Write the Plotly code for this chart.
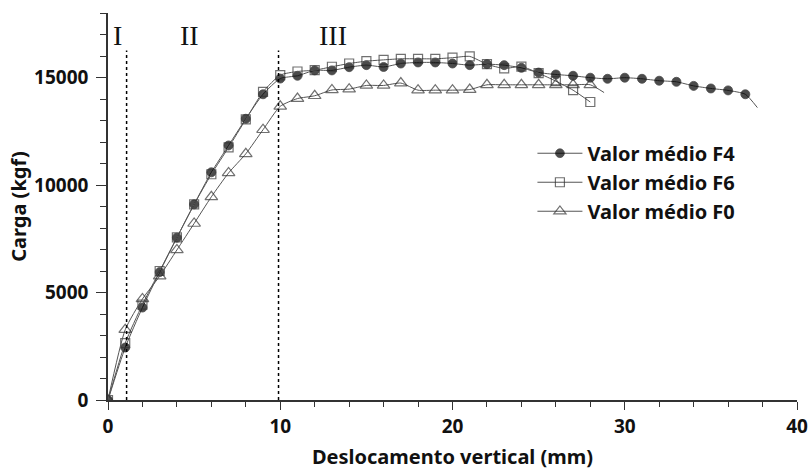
import plotly.graph_objects as go

# ---- data ----
x_f4 = [0, 1, 2, 3, 4, 5, 6, 7, 8, 9, 10, 11, 12, 13, 14, 15, 16, 17, 18, 19,
        20, 21, 22, 23, 24, 25, 26, 27, 28, 29, 30, 31, 32, 33, 34, 35, 36, 37]
y_f4 = [0, 2440, 4300, 5950, 7550, 9100, 10590, 11840, 13080, 14220, 14950,
        15080, 15330, 15330, 15480, 15575, 15490, 15650, 15700, 15700, 15650,
        15575, 15620, 15575, 15450, 15230, 15140, 15080, 14990, 14940, 14990,
        14940, 14850, 14800, 14610, 14490, 14400, 14220]
f4_end = (37.7, 13600)

x_f6 = [0, 1, 2, 3, 4, 5, 6, 7, 8, 9, 10, 11, 12, 13, 14, 15, 16, 17, 18, 19,
        20, 21, 22, 23, 24, 25, 26, 27, 28]
y_f6 = [0, 2650, 4440, 6000, 7560, 9100, 10500, 11750, 13050, 14330, 15110,
        15280, 15340, 15500, 15650, 15760, 15820, 15870, 15870, 15870, 15920,
        15980, 15620, 15420, 15510, 15200, 14830, 14410, 13860]

x_f0 = [0, 1, 2, 3, 4, 5, 6, 7, 8, 9, 10, 11, 12, 13, 14, 15, 16, 17, 18, 19,
        20, 21, 22, 23, 24, 25, 26, 27, 28]
y_f0 = [0, 3270, 4700, 5760, 6980, 8210, 9450, 10560, 11450, 12570, 13660,
        14020, 14150, 14420, 14460, 14630, 14630, 14740, 14410, 14410, 14410,
        14440, 14660, 14660, 14660, 14660, 14660, 14660, 14660]
f0_end = (28.8, 14300)

series_names = ["Valor médio F4", "Valor médio F6", "Valor médio F0"]
region_labels = ["I", "II", "III"]
region_label_x = [0.58, 4.76, 13.07]
region_label_y = 16950
boundary_x = [1.08, 9.9]
boundary_top = 16250

x_title = "Deslocamento vertical (mm)"
y_title = "Carga (kgf)"

# ---- figure ----
LINE = "#555555"
MK = "#333333"
FONT = "Noto Sans"

fig = go.Figure()

specs = [
    (x_f4, y_f4, f4_end, dict(symbol="circle", color="#000000", size=9,
                              line=dict(color="#000000", width=0.8))),
    (x_f6, y_f6, None, dict(symbol="square-open", color=MK, size=9,
                            line=dict(color=MK, width=1.2))),
    (x_f0, y_f0, f0_end, dict(symbol="triangle-up-open", color=MK, size=11,
                              line=dict(color=MK, width=1.2))),
]

for name, (xs, ys, end, mk) in zip(series_names, specs):
    n = len(xs)
    if end is not None:
        xs = list(xs) + [end[0]]
        ys = list(ys) + [end[1]]
    sizes = [mk["size"]] * n + ([0] * (len(xs) - n))
    marker = dict(mk)
    marker["size"] = sizes
    fig.add_trace(go.Scatter(
        x=xs, y=ys, name=name, mode="lines+markers",
        line=dict(color=LINE, width=1, shape="spline", smoothing=0.6),
        marker=marker,
    ))

for bx in boundary_x:
    fig.add_shape(type="line", xref="x", yref="y", x0=bx, x1=bx, y0=0,
                  y1=boundary_top, line=dict(color="black", width=1.5,
                                             dash="3px,3px"))

for lab, lx in zip(region_labels, region_label_x):
    fig.add_annotation(x=lx, y=region_label_y, xref="x", yref="y", text=lab,
                       showarrow=False,
                       font=dict(family="Liberation Serif", size=28,
                                 color="#111111"))

axis_common = dict(
    showline=True, linecolor="#333333", linewidth=1.5, showgrid=False,
    zeroline=False, ticks="outside", tickwidth=1.3,
    tickcolor="#333333", automargin=False,
    tickfont=dict(family=FONT, size=19, color="#111111", weight="bold"),
    mirror=False,
)

fig.update_xaxes(range=[0, 40], dtick=10, tick0=0, ticklen=8,
                 minor=dict(dtick=2, ticks="outside", ticklen=5,
                            tickcolor="#333333", tickwidth=1.2),
                 title=dict(text=x_title, standoff=12,
                            font=dict(family=FONT, size=20,
                                      color="#111111", weight="bold")),
                 **axis_common)
fig.update_yaxes(range=[0, 18000], dtick=5000, tick0=0, tickformat="d",
                 ticklen=10, ticklabelstandoff=4,
                 minor=dict(dtick=1000, ticks="outside", ticklen=6,
                            tickcolor="#333333", tickwidth=1.2),
                 title=dict(text=y_title, standoff=2,
                            font=dict(family=FONT, size=20,
                                      color="#111111", weight="bold")),
                 **axis_common)

fig.update_layout(
    width=809, height=470,
    margin=dict(l=108, r=12, t=13, b=70),
    plot_bgcolor="white", paper_bgcolor="white",
    showlegend=True,
    legend=dict(x=0.616, y=0.688, xanchor="left", yanchor="top",
                bgcolor="rgba(0,0,0,0)", itemwidth=45,
                font=dict(family=FONT, size=20, color="#111111",
                          weight="bold")),
)

fig.write_html("out.html", config={"displayModeBar": False})

# remove the browser's default 8px body margin so the figure sits at (0, 0)
with open("out.html", "r", encoding="utf-8") as fh:
    html = fh.read()
html = html.replace("<head>",
                    "<head><style>html,body{margin:0;padding:0;overflow:hidden;}</style>",
                    1)
with open("out.html", "w", encoding="utf-8") as fh:
    fh.write(html)
